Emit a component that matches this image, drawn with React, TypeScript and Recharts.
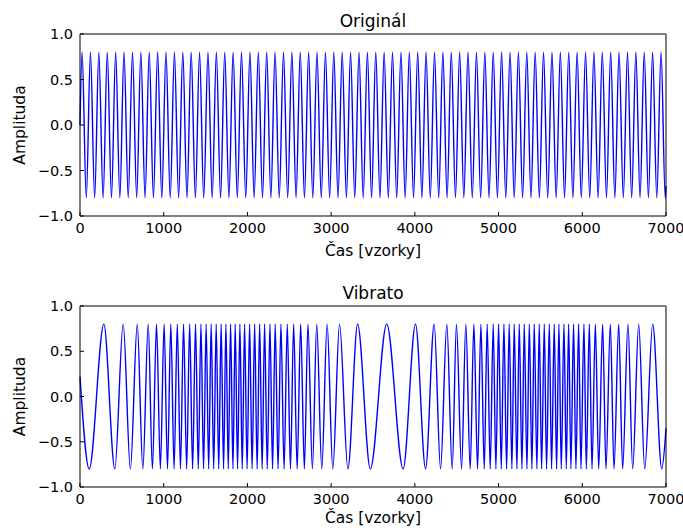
import { LineChart, Line, XAxis, YAxis } from 'recharts';

// shared axis setup
const xTicks = [0, 1000, 2000, 3000, 4000, 5000, 6000, 7000];
const yTicks = [-1, -0.5, 0, 0.5, 1];
const amplitude = 0.8;

// "Originál" – sample positions of the crests / troughs
const origPeaks = [
  25, 125, 225, 326, 426, 526, 627, 727, 827, 927,
  1027, 1128, 1228, 1328, 1428, 1529, 1629, 1729, 1829, 1929,
  2030, 2130, 2230, 2330, 2431, 2531, 2631, 2731, 2831, 2932,
  3032, 3132, 3232, 3333, 3433, 3533, 3633, 3733, 3834, 3934,
  4034, 4134, 4235, 4335, 4435, 4535, 4635, 4736, 4836, 4936,
  5036, 5137, 5237, 5337, 5437, 5537, 5638, 5738, 5838, 5938,
  6039, 6139, 6239, 6339, 6439, 6540, 6640, 6740, 6840, 6941,
];
const origTroughs = [
  75, 175, 276, 376, 476, 576, 677, 777, 877, 977,
  1078, 1178, 1278, 1378, 1478, 1579, 1679, 1779, 1879, 1980,
  2080, 2180, 2280, 2380, 2481, 2581, 2681, 2781, 2882, 2982,
  3082, 3182, 3282, 3383, 3483, 3583, 3683, 3783, 3884, 3984,
  4084, 4184, 4285, 4385, 4485, 4585, 4686, 4786, 4886, 4986,
  5086, 5187, 5287, 5387, 5487, 5587, 5688, 5788, 5888, 5988,
  6089, 6189, 6289, 6389, 6490, 6590, 6690, 6790, 6890, 6991,
];
const origStart = 0;
const origEnd = -0.67;

// "Vibrato" – crests / troughs
const vibPeaks = [
  285, 516, 684, 815, 914, 1005, 1085, 1162, 1237, 1310,
  1380, 1445, 1507, 1567, 1627, 1686, 1743, 1799, 1854, 1910,
  1966, 2026, 2086, 2146, 2205, 2269, 2332, 2400, 2476, 2552,
  2636, 2723, 2828, 2952, 3100, 3316, 3664, 4008, 4231, 4382,
  4497, 4609, 4705, 4789, 4864, 4936, 5000, 5064, 5127, 5187,
  5247, 5307, 5367, 5426, 5486, 5546, 5606, 5665, 5721, 5781,
  5837, 5896, 5956, 6020, 6084, 6156, 6243, 6335, 6435, 6546,
  6674, 6841,
];
const vibTroughs = [
  110, 416, 602, 751, 865, 960, 1045, 1124, 1200, 1274,
  1345, 1413, 1476, 1537, 1597, 1657, 1715, 1771, 1827, 1882,
  1938, 1996, 2056, 2116, 2176, 2237, 2300, 2366, 2438, 2514,
  2594, 2680, 2776, 2888, 3020, 3200, 3468, 3860, 4128, 4307,
  4446, 4558, 4661, 4749, 4829, 4900, 4968, 5032, 5096, 5159,
  5219, 5279, 5339, 5398, 5458, 5514, 5573, 5633, 5693, 5749,
  5809, 5864, 5924, 5984, 6048, 6116, 6196, 6283, 6379, 6482,
  6602, 6746, 6949,
];
const vibStart = 0.22;
const vibEnd = -0.35;

type Pt = { s: number; v: number };

function buildWave(peaks: number[], troughs: number[], start: number, end: number): Pt[] {
  const pts: Pt[] = [
    { s: xTicks[0], v: start },
    ...peaks.map((s) => ({ s, v: amplitude })),
    ...troughs.map((s) => ({ s, v: -amplitude })),
    { s: xTicks[xTicks.length - 1], v: end },
  ];
  return pts.sort((a, b) => a.s - b.s);
}

const origData = buildWave(origPeaks, origTroughs, origStart, origEnd);
const vibData = buildWave(vibPeaks, vibTroughs, vibStart, vibEnd);

const fmtY = (v: number) => (v < 0 ? '\u2212' : '') + Math.abs(v).toFixed(1);

const black = { stroke: '#000' };
const tickFont = { fontSize: 14.5, fill: '#000' };

interface PanelProps {
  title: string;
  data: Pt[];
  top: number;
  axisH: number;
  labelDy: number;
}

function Panel({ title, data, top, axisH, labelDy }: PanelProps) {
  const xDomain = [xTicks[0], xTicks[xTicks.length - 1]];
  return (
    <LineChart width={683} height={264} data={data} margin={{ top: top - 1, right: 16, bottom: 0, left: 0 }}>
      <XAxis
        dataKey="s"
        type="number"
        domain={xDomain}
        ticks={xTicks}
        interval={0}
        height={axisH}
        tickSize={-4}
        tickMargin={10.5}
        tick={tickFont}
        axisLine={black}
        tickLine={black}
        label={{ value: 'Čas [vzorky]', position: 'center', dy: labelDy, fontSize: 15.5, fill: '#000' }}
      />
      <XAxis
        xAxisId="t"
        orientation="top"
        dataKey="s"
        type="number"
        domain={xDomain}
        ticks={xTicks}
        interval={0}
        height={1}
        tickSize={-4}
        tick={false}
        axisLine={black}
        tickLine={black}
        label={{ value: title, position: 'top', offset: 6, fontSize: 17, fill: '#000' }}
      />
      <YAxis
        type="number"
        domain={[-1, 1]}
        ticks={yTicks}
        interval={0}
        width={80}
        tickSize={-4}
        tickMargin={11}
        tick={tickFont}
        tickFormatter={fmtY}
        axisLine={black}
        tickLine={black}
        label={{ value: 'Amplituda', angle: -90, position: 'center', dx: -20.5, fontSize: 15.5, fill: '#000' }}
      />
      <YAxis
        yAxisId="r"
        orientation="right"
        type="number"
        domain={[-1, 1]}
        ticks={yTicks}
        interval={0}
        width={1}
        tickSize={-4}
        tick={false}
        axisLine={black}
        tickLine={black}
      />
      <Line
        type="monotone"
        dataKey="v"
        stroke="#0000ff"
        strokeWidth={1.4}
        dot={false}
        isAnimationActive={false}
      />
      {/* invisible copy so the mirrored frame axes get registered */}
      <Line
        xAxisId="t"
        yAxisId="r"
        type="monotone"
        dataKey="v"
        stroke="none"
        dot={false}
        activeDot={false}
        isAnimationActive={false}
      />
    </LineChart>
  );
}

export default function App() {
  return (
    <div
      style={{
        position: 'absolute',
        left: 0,
        top: 0,
        width: 683,
        height: 528,
        background: '#fff',
        fontFamily: '"DejaVu Sans", sans-serif',
      }}
    >
      <Panel title="Originál" data={origData} top={34} axisH={48} labelDy={10.5} />
      <Panel title="Vibrato" data={vibData} top={42} axisH={41} labelDy={10} />
    </div>
  );
}
